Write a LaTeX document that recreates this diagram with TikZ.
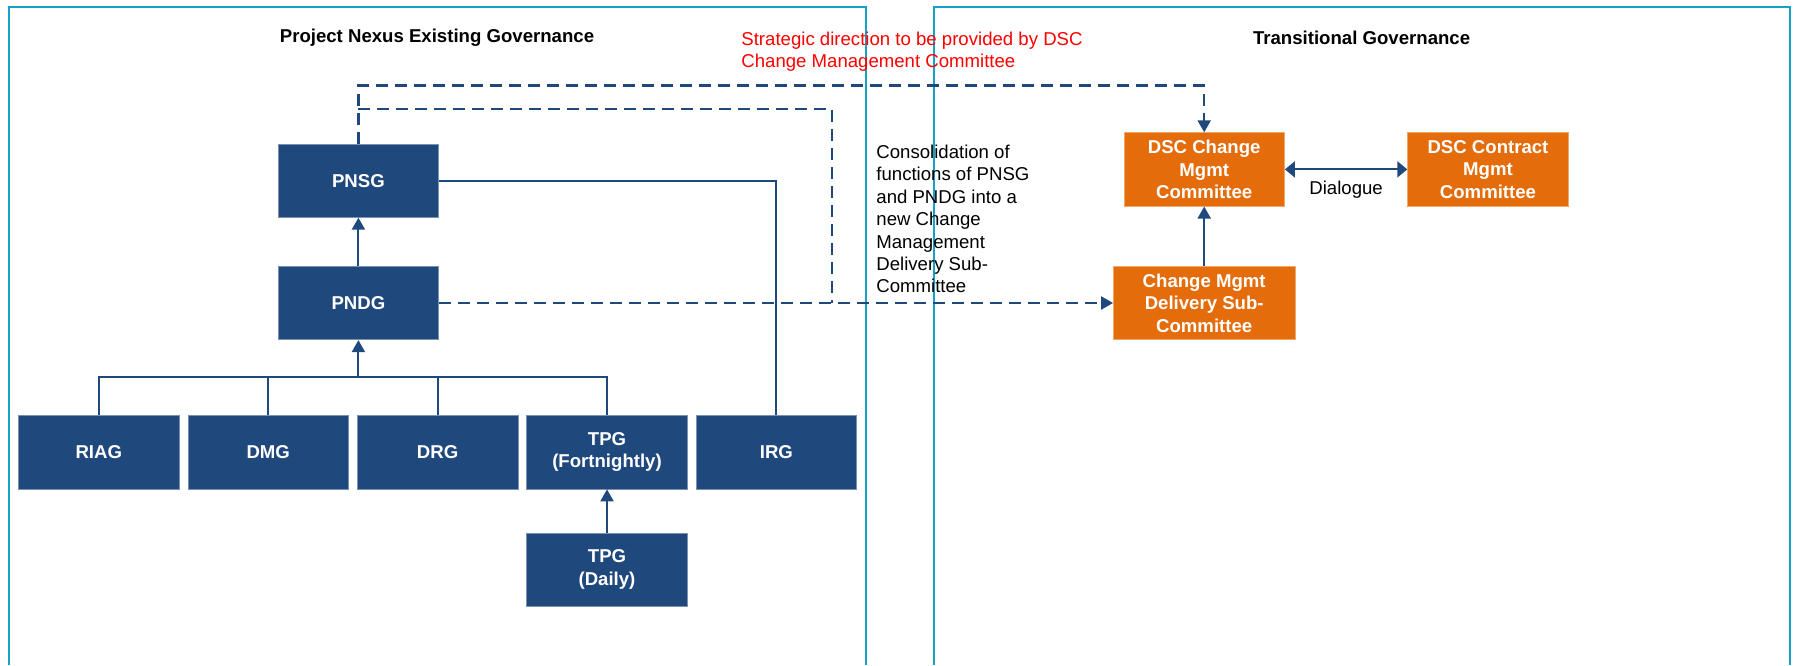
\documentclass[tikz,border=0pt]{standalone}
\usepackage{fontspec}
\setmainfont{Liberation Sans}
\usepackage{tikz}
\usetikzlibrary{arrows.meta,positioning}

\definecolor{govblue}{RGB}{31,73,125}
\definecolor{govorange}{RGB}{228,108,10}
\definecolor{framecyan}{RGB}{22,162,198}

\begin{document}
\begin{tikzpicture}
	[->,>={Triangle[width=6.5pt,length=6pt]},auto,node distance=84.7pt,
		font=\fontsize{9.3}{11.2}\selectfont,
		line width=1pt,govblue,
		base box/.style={rectangle,fill=govblue,draw=govblue!60!white,line width=0.4pt,text=white,font=\fontsize{9.3}{11.2}\selectfont\bfseries,align=center,minimum width=80.3pt,minimum height=36.7pt,inner sep=1pt},
		new box/.style={base box,fill=govorange,draw=govorange!60!white},
		link/.style={dashed,dash pattern=on 6pt off 3.5pt,line width=1.1pt}]

	\useasboundingbox (0,0) rectangle (897.5pt,-332.5pt);

	% frames
	\draw[-,framecyan,line width=1pt] (4.5pt,-332.5pt) |- (432.8pt,-3.4pt) -- (432.8pt,-332.5pt);
	\draw[-,framecyan,line width=1pt] (467pt,-332.5pt) |- (895pt,-3.4pt) -- (895pt,-332.5pt);

	\node[text=black,font=\fontsize{9.3}{11.2}\selectfont\bfseries] (T1) at (218.5pt,-18.9pt) {Project Nexus Existing Governance};
	\node[text=black,font=\fontsize{9.3}{11.2}\selectfont\bfseries] (T2) at (680.8pt,-18.9pt) {Transitional Governance};
	\node[text=red,anchor=west,align=left,inner sep=0pt] (note) at (370.2pt,-25.7pt) {Strategic direction to be provided by DSC\\Change Management Committee};

	\node[base box] (PNSG) at (179.2pt,-90.3pt) {PNSG};
	\node[base box] (PNDG) [below of = PNSG, node distance=61.2pt] {PNDG};
	\node[base box] (RIAG) at (49.4pt,-226.1pt) {RIAG};
	\node[base box] (DMG)  [right of = RIAG] {DMG};
	\node[base box] (DRG)  [right of = DMG] {DRG};
	\node[base box] (TPG)  [right of = DRG] {TPG\\(Fortnightly)};
	\node[base box] (IRG)  [right of = TPG] {IRG};
	\node[base box] (TPGD) [below of = TPG, node distance=58.7pt] {TPG\\(Daily)};

	\node[new box] (DSCC) at (602.1pt,-84.7pt) {DSC Change\\Mgmt\\Committee};
	\node[new box] (DSCK) [right of = DSCC, node distance=141.9pt] {DSC Contract\\Mgmt\\Committee};
	\node[new box,minimum width=90.7pt] (CMDSC) [below of = DSCC, node distance=66.8pt] {Change Mgmt\\Delivery Sub-\\Committee};

	\node[text=black,anchor=west,align=left,inner sep=0pt] (cons) at (437.7pt,-109.5pt) {Consolidation of\\functions of PNSG\\and PNDG into a\\new Change\\Management\\Delivery Sub-\\Committee};

	\coordinate (bus) at (0,-188.7pt);
	\coordinate (outer) at (0,-42.7pt);
	\coordinate (inner) at (0,-54.3pt);
	\coordinate (merge) at (416pt,-151.5pt);

	% existing governance
	\draw (PNDG) -- (PNSG);
	\draw[-] (RIAG.north) |- (TPG.north |- bus) -- (TPG.north);
	\draw[-] (DMG.north) -- (DMG.north |- bus);
	\draw[-] (DRG.north) -- (DRG.north |- bus);
	\draw (PNDG.south |- bus) -- (PNDG.south);
	\draw[-] (PNSG.east) -| (IRG.north);
	\draw (TPGD) -- (TPG);

	% transition
	\draw[link] (PNSG.north) -- (PNSG.north |- outer) -| (DSCC.north);
	\draw[link,-] (PNSG.north |- inner) -| (merge);
	\draw[link] (PNDG.east) -- (CMDSC.west);
	\draw (CMDSC) -- (DSCC);
	\draw[<->,>={Triangle[width=8pt,length=5pt]}] (DSCC) -- node[below=2pt,text=black] {Dialogue} (DSCK);

\end{tikzpicture}
\end{document}
